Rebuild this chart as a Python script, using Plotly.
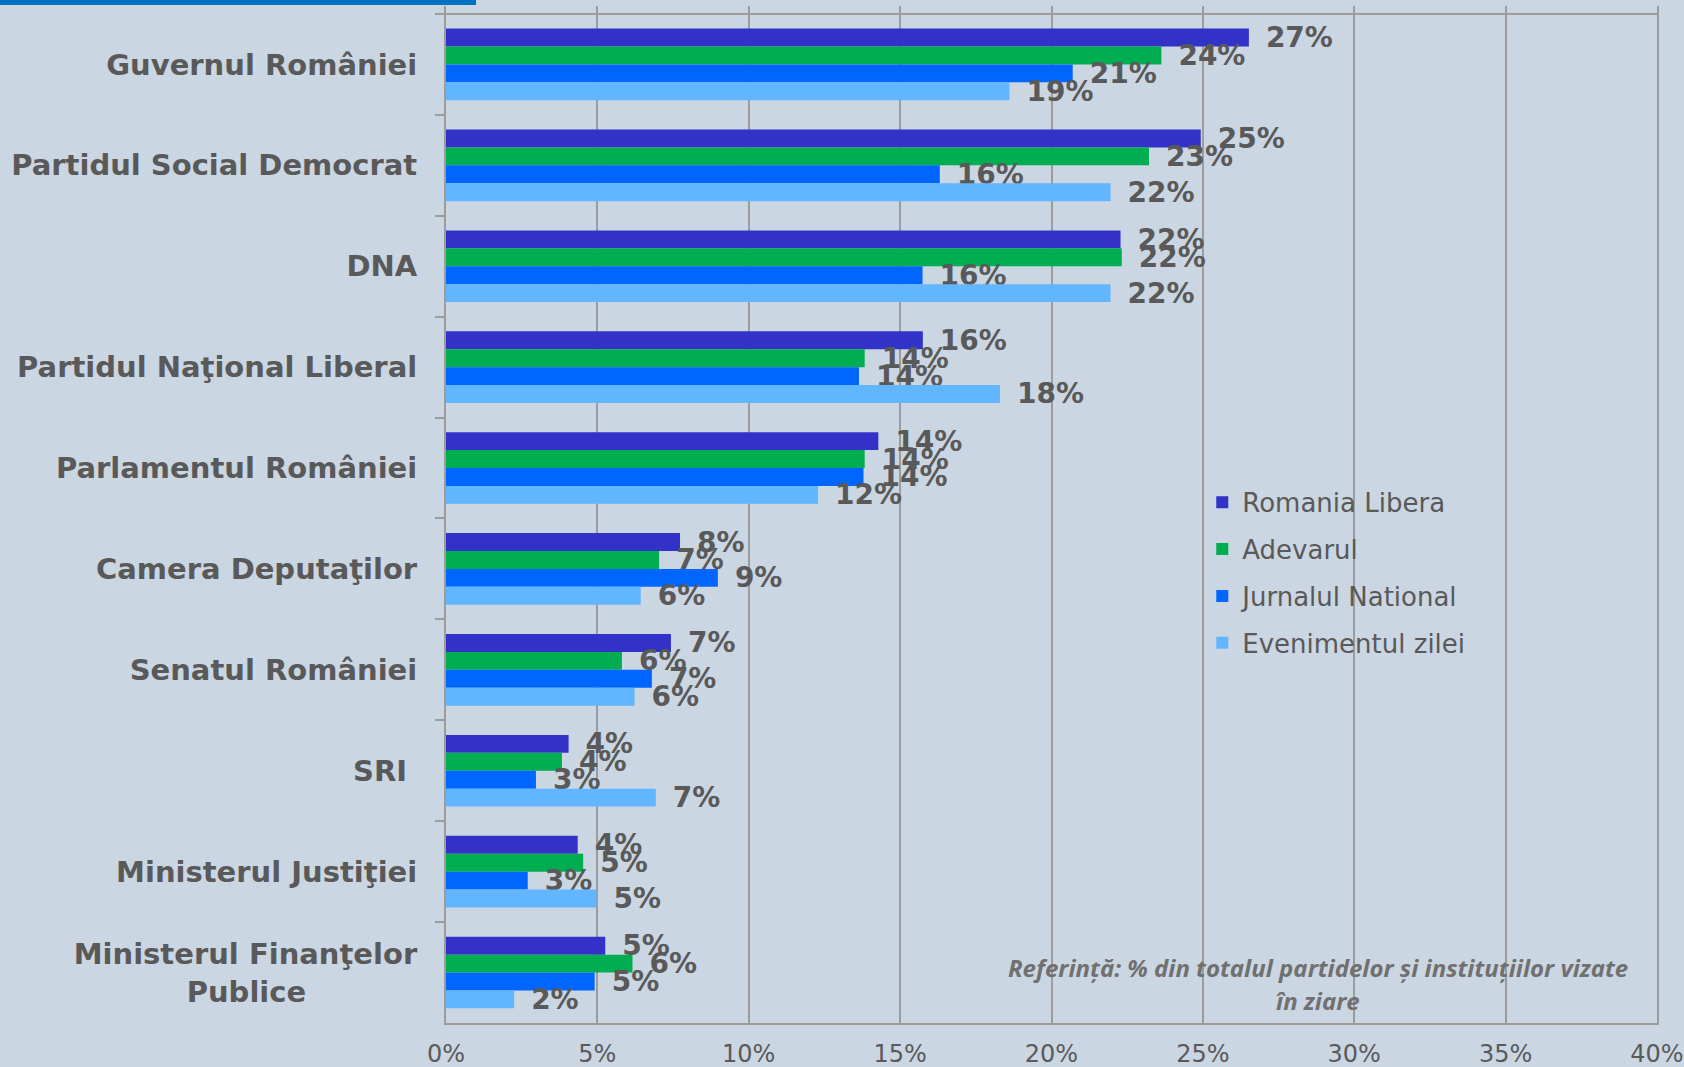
import plotly.graph_objects as go

categories = ['Guvernul României', 'Partidul Social Democrat', 'DNA', 'Partidul Naţional Liberal',
              'Parlamentul României', 'Camera Deputaţilor', 'Senatul României', 'SRI\u00a0',
              'Ministerul Justiţiei', 'Ministerul Finanţelor<br>Publice' + '\u00a0' * 11]

romania_libera = [26.52, 24.93, 22.28, 15.75, 14.28, 7.73, 7.43, 4.05, 4.35, 5.26]
adevarul = [23.63, 23.22, 22.32, 13.83, 13.83, 7.04, 5.81, 3.83, 4.53, 6.16]
jurnalul_national = [20.70, 16.31, 15.74, 13.64, 13.79, 8.98, 6.80, 2.97, 2.70, 4.91]
evenimentul_zilei = [18.61, 21.95, 21.95, 18.30, 12.29, 6.43, 6.23, 6.93, 4.97, 2.25]

series = [
    ('Romania Libera', romania_libera, '#3232C8'),
    ('Adevarul', adevarul, '#00AD50'),
    ('Jurnalul National', jurnalul_national, '#0066FF'),
    ('Evenimentul zilei', evenimentul_zilei, '#62B5FF'),
]

bg = '#CAD6E2'
grid = '#9C9C9C'
label_grey = '#595959'

fig = go.Figure()
for name, values, colour in series:
    fig.add_trace(go.Bar(
        y=categories, x=values, name=name, orientation='h',
        marker=dict(color=colour, line=dict(width=0)),
        texttemplate='\u2002%{x:.0f}%', textposition='outside',
        textfont=dict(family='DejaVu Sans', size=28, color=label_grey, weight='bold'),
        constraintext='none', cliponaxis=False, legendgroup=name,
    ))

# plot area starts a little above the first category so the grid pokes out over the top line
fig.update_layout(
    width=1684, height=1067,
    margin=dict(l=446, r=27, t=6, b=44),
    paper_bgcolor=bg, plot_bgcolor=bg,
    barmode='group', bargap=0.29,
    font=dict(family='DejaVu Sans', color=label_grey),
    showlegend=True,
    legend=dict(x=0.6245, y=0.535, xanchor='left', yanchor='top', bgcolor='rgba(0,0,0,0)',
                font=dict(size=26, color=label_grey), itemwidth=30,
                traceorder='grouped', tracegroupgap=10),
    shapes=[
        dict(type='rect', xref='paper', yref='paper', x0=-0.3683, x1=0.0248,
             y0=1.001, y1=1.012, fillcolor='#0070C0', line=dict(width=0), layer='above'),
        dict(type='line', xref='paper', yref='y', x0=0, x1=1, y0=-0.5, y1=-0.5,
             line=dict(color=grid, width=2), layer='below'),
    ],
    annotations=[
        dict(text='Referință: % din totalul partidelor și instituțiilor vizate', xref='paper', yref='paper',
             x=0.72, y=0.0545, xanchor='center', yanchor='middle', showarrow=False,
             font=dict(family='Open Sans', size=24, color='#707070', weight='bold', style='italic')),
        dict(text='în ziare', xref='paper', yref='paper',
             x=0.72, y=0.0218, xanchor='center', yanchor='middle', showarrow=False,
             font=dict(family='Open Sans', size=24, color='#707070', weight='bold', style='italic')),
    ],
)

fig.update_xaxes(range=[0, 40], dtick=5, ticksuffix='%', showgrid=True, gridcolor=grid, gridwidth=1.5,
                 showline=True, linecolor=grid, linewidth=2, mirror=False, zeroline=False,
                 automargin=False, ticklabeloverflow='allow',
                 ticks='', ticklabelstandoff=8, tickfont=dict(size=24, color='#5A5A5A'))
fig.update_yaxes(range=[9.5, -0.579], showline=True, linecolor=grid, linewidth=2, mirror=True,
                 ticks='outside', tickson='boundaries', ticklen=9, tickcolor=grid, tickwidth=2,
                 ticklabelstandoff=21, showgrid=False, automargin=False,
                 tickfont=dict(size=29, color=label_grey, weight='bold'))

fig.write_html('out.html', config={'displayModeBar': False},
               post_script="document.body.style.margin='0';"
                           "document.body.style.background='#CAD6E2';")
